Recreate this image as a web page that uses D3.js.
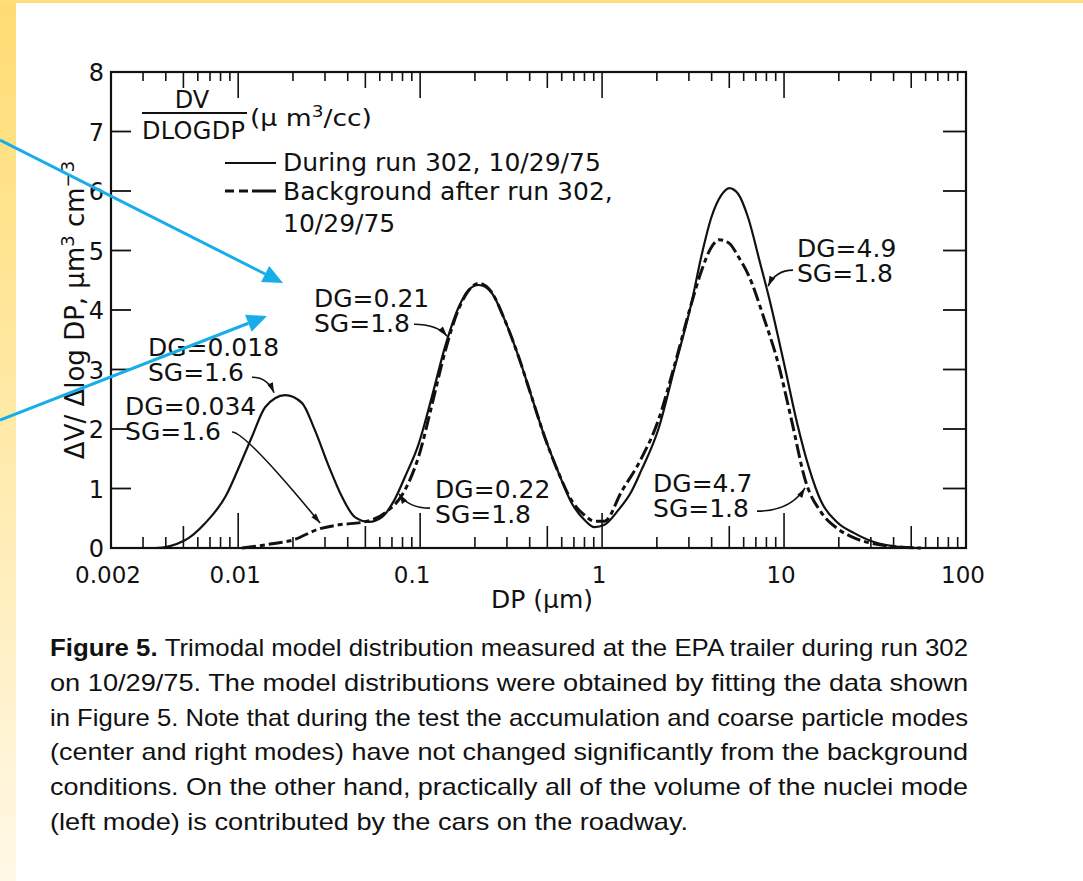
<!DOCTYPE html>
<meta charset="utf-8">
<style>
body { margin: 0; background: #fff; }
svg text { font-family: "DejaVu Sans", sans-serif; fill: #111; }
</style>
<svg width="1083" height="881"></svg>
<script src="https://d3js.org/d3.v7.min.js"></script>
<script>

// axis ticks
var xTickVals = [0.002, 0.01, 0.1, 1, 10, 100];
var xTickText = ["0.002", "0.01", "0.1", "1", "10", "100"];
var yTickVals = [0, 1, 2, 3, 4, 5, 6, 7, 8];

// during run 302 (solid)
var dpDuring = [0.002, 0.0035, 0.0051, 0.0066, 0.0085, 0.0105, 0.0119, 0.0141, 0.0181, 0.0224,
  0.0264, 0.0316, 0.0372, 0.0438, 0.0523, 0.0617, 0.072, 0.0824, 0.0984, 0.116,
  0.137, 0.163, 0.185, 0.21, 0.247, 0.292, 0.348, 0.41, 0.483, 0.577,
  0.679, 0.801, 0.908, 1.03, 1.23, 1.45, 1.64, 2.04, 2.49, 3.09,
  3.51, 3.98, 4.52, 5.0, 5.6, 6.35, 7.3, 8.28, 10.0, 11.9,
  13.7, 16.0, 19.8, 24.3, 31.2, 42.3, 56.5, 100];
var dvDuring = [0, 0, 0.13, 0.42, 0.86, 1.48, 1.87, 2.37, 2.57, 2.44,
  1.98, 1.36, 0.86, 0.52, 0.44, 0.52, 0.8, 1.19, 1.76, 2.54,
  3.38, 4.05, 4.34, 4.42, 4.29, 3.83, 3.21, 2.54, 1.87, 1.26,
  0.76, 0.47, 0.35, 0.39, 0.64, 0.95, 1.3, 2.0, 3.0, 4.1,
  4.9, 5.55, 5.93, 6.05, 5.95, 5.55, 4.85, 4.2, 3.1, 2.05,
  1.35, 0.78, 0.42, 0.25, 0.1, 0.02, 0, 0];

// background after run 302 (dashed)
var dpBackground = [0.0105, 0.0119, 0.0153, 0.0198, 0.0278, 0.0358, 0.0497, 0.0641, 0.0824, 0.0984,
  0.116, 0.137, 0.163, 0.185, 0.21, 0.247, 0.292, 0.348, 0.41, 0.483,
  0.577, 0.679, 0.801, 0.908, 1.03, 1.28, 1.64, 2.04, 2.49, 3.09,
  3.51, 3.98, 4.41, 5.0, 5.6, 6.35, 7.78, 9.29, 10.9, 13.2,
  16.0, 19.8, 24.3, 31.2, 42.3, 56.5];
var dvBackground = [0, 0.02, 0.07, 0.13, 0.32, 0.39, 0.44, 0.59, 0.97, 1.55,
  2.4, 3.3, 4.02, 4.33, 4.45, 4.3, 3.83, 3.21, 2.54, 1.87,
  1.26, 0.8, 0.55, 0.45, 0.45, 0.95, 1.5, 2.15, 3.05, 4.1,
  4.65, 5.05, 5.18, 5.12, 4.9, 4.6, 3.85, 3.1, 2.2, 1.1,
  0.6, 0.32, 0.17, 0.07, 0.02, 0];

// mode labels (position in data units) and their leaders
var notes = [
  { lines: ["DG=0.21", "SG=1.8"], dp: 0.0261, dv: 4.05, from: [0.0925, 3.76], to: [0.1406, 3.56] },
  { lines: ["DG=0.018", "SG=1.6"], dp: 0.00319, dv: 3.23, from: [0.0119, 2.87], to: [0.01574, 2.61] },
  { lines: ["DG=0.034", "SG=1.6"], dp: 0.00239, dv: 2.235, from: [0.00925, 1.95], to: [0.0282, 0.42], straight: true },
  { lines: ["DG=0.22", "SG=1.8"], dp: 0.1208, dv: 0.84, from: [0.1132, 0.67], to: [0.0766, 0.91] },
  { lines: ["DG=4.9", "SG=1.8"], dp: 11.78, dv: 4.89, from: [11.2, 4.67], to: [8.17, 4.40] },
  { lines: ["DG=4.7", "SG=1.8"], dp: 1.905, dv: 0.94, from: [7.10, 0.62], to: [13.04, 1.01] }
];

var caption = [
  "Trimodal model distribution measured at the EPA trailer during run 302",
  "on 10/29/75. The model distributions were obtained by fitting the data shown",
  "in Figure 5. Note that during the test the accumulation and coarse particle modes",
  "(center and right modes) have not changed significantly from the background",
  "conditions. On the other hand, practically all of the volume of the nuclei mode",
  "(left mode) is contributed by the cars on the roadway."
];

var svg = d3.select("svg");

// slide background
var defs = svg.append("defs");
var grad = defs.append("linearGradient").attr("id", "band")
    .attr("x1", 0).attr("y1", 0).attr("x2", 0).attr("y2", 1);
grad.append("stop").attr("offset", "0%").attr("stop-color", "#ffdc72");
grad.append("stop").attr("offset", "50%").attr("stop-color", "#ffeaaa");
grad.append("stop").attr("offset", "100%").attr("stop-color", "#fff8e6");
svg.append("rect").attr("x", 0).attr("y", 0).attr("width", 16).attr("height", 881).attr("fill", "url(#band)");
svg.append("rect").attr("x", 0).attr("y", 0).attr("width", 1083).attr("height", 3).attr("fill", "#ffde7c");

var x = d3.scaleLog().domain([0.002, 100]).range([111, 966]),
    y = d3.scaleLinear().domain([0, 8]).range([548, 72]);

var x0 = x.range()[0], x1 = x.range()[1], y0 = y(0), y1 = y(8);

var g = svg.append("g");

// frame
g.append("rect")
    .attr("x", x0).attr("y", y1)
    .attr("width", x1 - x0).attr("height", y0 - y1)
    .attr("fill", "none").attr("stroke", "#111").attr("stroke-width", 2.2);

// log ticks on bottom and top
x.ticks().forEach(function(t) {
  var k = Math.round(t / Math.pow(10, Math.floor(Math.log10(t) + 1e-9)));
  var lb = k == 1 ? 35 : (k == 5 ? 22 : 11);
  var lt = k == 1 ? 26 : (k == 5 ? 16 : 9);
  g.append("line").attr("x1", x(t)).attr("x2", x(t)).attr("y1", y0).attr("y2", y0 - lb)
      .attr("stroke", "#111").attr("stroke-width", 1.6);
  g.append("line").attr("x1", x(t)).attr("x2", x(t)).attr("y1", y1).attr("y2", y1 + lt)
      .attr("stroke", "#111").attr("stroke-width", 1.6);
});

// y ticks, left and right
yTickVals.slice(1, -1).forEach(function(v) {
  g.append("line").attr("x1", x0).attr("x2", x0 + 20).attr("y1", y(v)).attr("y2", y(v))
      .attr("stroke", "#111").attr("stroke-width", 1.8);
  g.append("line").attr("x1", x1).attr("x2", x1 - 23).attr("y1", y(v)).attr("y2", y(v))
      .attr("stroke", "#111").attr("stroke-width", 1.8);
});

g.selectAll(".ylab").data(yTickVals).enter().append("text")
    .attr("class", "ylab")
    .attr("x", x0 - 7).attr("y", function(d) { return y(d) + 2; })
    .attr("text-anchor", "end").attr("dominant-baseline", "middle")
    .style("font-size", "24px")
    .text(function(d) { return d; });

g.selectAll(".xlab").data(xTickVals).enter().append("text")
    .attr("class", "xlab")
    .attr("x", function(d) { return d == 0.1 ? x(d) - 8 : x(d) - 3; }).attr("y", y0 + 35)
    .attr("text-anchor", "middle")
    .style("font-size", "23px")
    .text(function(d, i) { return xTickText[i]; });

g.append("text").attr("x", 542).attr("y", 608).attr("text-anchor", "middle")
    .style("font-size", "25px").text("DP (\u03bcm)");

// y title
var yt = g.append("text").attr("transform", "translate(84,310) rotate(-90)")
    .attr("text-anchor", "middle")
    .style("font-size", "26px");
yt.append("tspan").text("\u0394V/ \u0394log DP,  \u03bcm");
yt.append("tspan").attr("baseline-shift", "super").style("font-size", "18px").text("3");
yt.append("tspan").text(" cm");
yt.append("tspan").attr("baseline-shift", "super").style("font-size", "18px").text("\u22123");

// legend title fraction
g.append("text").attr("x", 192).attr("y", 108).attr("text-anchor", "middle")
    .style("font-size", "24px").text("DV");
g.append("line").attr("x1", 142).attr("x2", 247).attr("y1", 113).attr("y2", 113)
    .attr("stroke", "#111").attr("stroke-width", 1.8);
g.append("text").attr("x", 142).attr("y", 139).attr("textLength", 103)
    .style("font-size", "24px").text("DLOGDP");
var unit = g.append("text").attr("x", 250).attr("y", 126).attr("textLength", 122)
    .attr("lengthAdjust", "spacingAndGlyphs")
    .style("font-size", "23px");
unit.append("tspan").text("(\u03bc m");
unit.append("tspan").attr("baseline-shift", "super").style("font-size", "16px").text("3");
unit.append("tspan").text("/cc)");

// legend entries
g.append("line").attr("x1", 225).attr("x2", 276).attr("y1", 163).attr("y2", 163)
    .attr("stroke", "#111").attr("stroke-width", 2);
g.append("text").attr("x", 283).attr("y", 171).style("font-size", "25px")
    .text("During run 302, 10/29/75");
g.append("line").attr("x1", 225).attr("x2", 276).attr("y1", 191).attr("y2", 191)
    .attr("stroke", "#111").attr("stroke-width", 3.2).attr("stroke-dasharray", "9,5,9,4,30");
g.append("text").attr("x", 283).attr("y", 200).style("font-size", "25px")
    .text("Background after run 302,");
g.append("text").attr("x", 283).attr("y", 232).style("font-size", "25px")
    .text("10/29/75");

// curves
var during = dpDuring.map(function(d, i) { return { dp: d, dv: dvDuring[i] }; });
var background = dpBackground.map(function(d, i) { return { dp: d, dv: dvBackground[i] }; });

var line = d3.line()
    .x(function(d) { return x(d.dp); })
    .y(function(d) { return y(d.dv); })
    .curve(d3.curveMonotoneX);

g.append("path").datum(background)
    .attr("d", line).attr("fill", "none")
    .attr("stroke", "#111").attr("stroke-width", 3)
    .attr("stroke-dasharray", "14,4,5,4");

g.append("path").datum(during)
    .attr("d", line).attr("fill", "none")
    .attr("stroke", "#111").attr("stroke-width", 2.2);

// mode labels with leaders
function head(tx, ty, fx, fy, len, wid) {
  var a = Math.atan2(ty - fy, tx - fx);
  var bx = tx - len * Math.cos(a), by = ty - len * Math.sin(a);
  var px = -Math.sin(a) * wid / 2, py = Math.cos(a) * wid / 2;
  return [[tx, ty], [bx + px, by + py], [bx - px, by - py]];
}

notes.forEach(function(n) {
  var t = g.append("text").attr("x", x(n.dp)).attr("y", y(n.dv)).style("font-size", "25px");
  n.lines.forEach(function(s, i) {
    t.append("tspan").attr("x", x(n.dp)).attr("dy", i == 0 ? 0 : 25).text(s);
  });
  var fx = x(n.from[0]), fy = y(n.from[1]), tx = x(n.to[0]), ty = y(n.to[1]);
  var cx = n.straight ? fx + 0.15 * (tx - fx) : fx + 0.7 * (tx - fx), cy = fy;
  var p = d3.path();
  p.moveTo(fx, fy);
  p.quadraticCurveTo(cx, cy, tx, ty);
  g.append("path").attr("d", p.toString()).attr("fill", "none")
      .attr("stroke", "#111").attr("stroke-width", 1.6);
  g.append("polygon").attr("points", head(tx, ty, cx, cy, 10, 6).join(" ")).attr("fill", "#111");
});

// blue pointer arrows on the slide
var arrows = [[[0, 140], [283, 283]], [[0, 420], [267, 316]]];
arrows.forEach(function(a) {
  var h = head(a[1][0], a[1][1], a[0][0], a[0][1], 20, 18);
  var bx = (h[1][0] + h[2][0]) / 2, by = (h[1][1] + h[2][1]) / 2;
  svg.append("line").attr("x1", a[0][0]).attr("y1", a[0][1]).attr("x2", bx).attr("y2", by)
      .attr("stroke", "#16aee8").attr("stroke-width", 3);
  svg.append("polygon").attr("points", h.join(" ")).attr("fill", "#16aee8");
});

// caption
var cap = svg.append("g");
caption.forEach(function(s, i) {
  var t = cap.append("text").attr("x", 50).attr("y", 656 + i * 34.8)
      .attr("textLength", i == caption.length - 1 ? 638 : 918)
      .attr("lengthAdjust", "spacingAndGlyphs")
      .style("font-family", "'Liberation Sans Narrow', 'Liberation Sans', sans-serif")
      .style("font-size", "24px");
  if (i == 0) t.append("tspan").style("font-weight", "bold").text("Figure 5. ");
  t.append("tspan").text(s);
});

</script>
